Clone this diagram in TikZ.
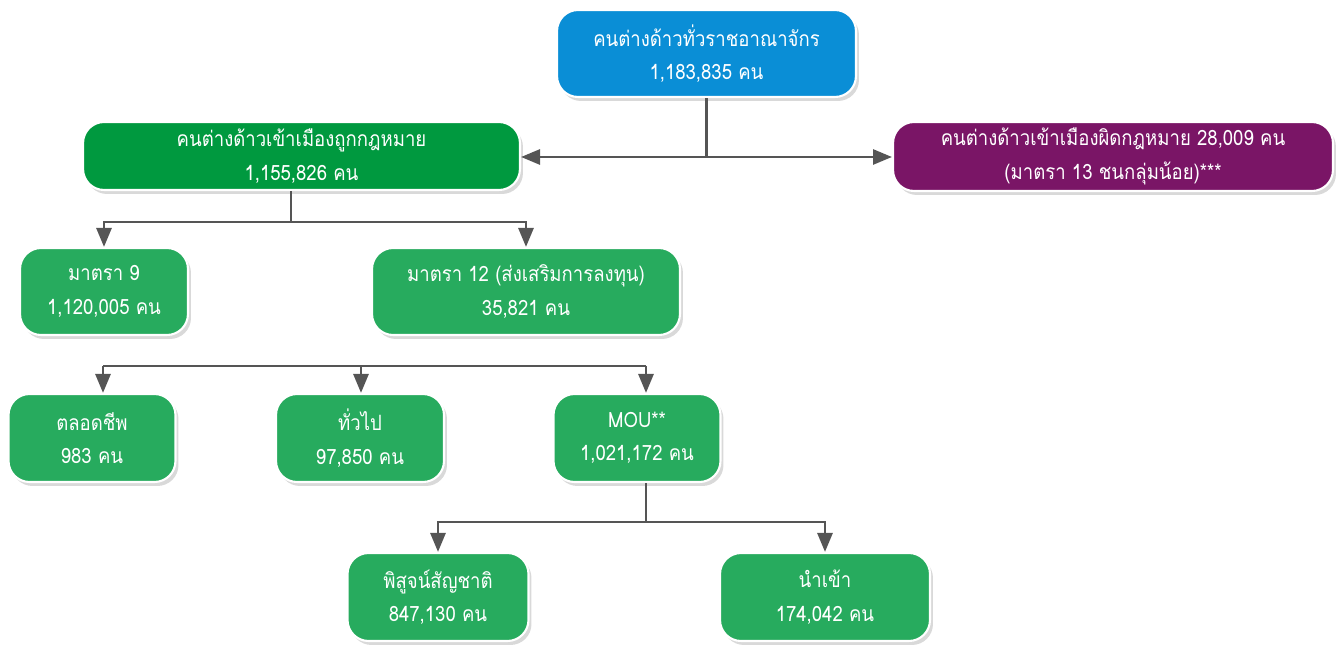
\documentclass[tikz,border=0pt]{standalone}
\usepackage{fontspec}
\newfontfamily\thaifont[Script=Thai,FakeStretch=0.88]{Loma}
\usetikzlibrary{arrows.meta,shadows}
\definecolor{boxblue}{HTML}{0A8ED6}
\definecolor{lawgreen}{HTML}{00993F}
\definecolor{subgreen}{HTML}{27AB5E}
\definecolor{boxpurple}{HTML}{7A1566}
\definecolor{linegray}{HTML}{555555}
\tikzset{
  cbox/.style={rectangle, rounded corners=0.42cm, draw=white, line width=1.2pt,
    text=white, align=center, inner sep=0pt,
    font=\thaifont\fontsize{12}{19}\selectfont,
    drop shadow={shadow xshift=0.06cm, shadow yshift=-0.08cm, opacity=0.3}},
  link/.style={draw=linegray, line width=1.6pt},
  tip/.style={-{Triangle[width=0.3cm,length=0.38cm]}}
}
\begin{document}
\begin{tikzpicture}[x=0.02cm,y=-0.02cm]
        \useasboundingbox (0,0) rectangle (1343,648);
        % boxes
        \node[cbox, fill=boxblue, minimum width=5.98cm, minimum height=1.74cm] (all) at (706.5,53.5) {คนต่างด้าวทั่วราชอาณาจักร\\1,183,835 คน};
        \node[cbox, fill=lawgreen, minimum width=8.74cm, minimum height=1.36cm] (legal) at (301.5,156) {คนต่างด้าวเข้าเมืองถูกกฎหมาย\\1,155,826 คน};
        \node[cbox, fill=boxpurple, minimum width=8.8cm, minimum height=1.38cm] (illegal) at (1113,156.5) {คนต่างด้าวเข้าเมืองผิดกฎหมาย 28,009 คน\\(มาตรา 13 ชนกลุ่มน้อย)***};
        \node[cbox, fill=subgreen, minimum width=3.36cm, minimum height=1.74cm] (m9) at (104,291.5) {มาตรา 9\\1,120,005 คน};
        \node[cbox, fill=subgreen, minimum width=6.16cm, minimum height=1.74cm] (m12) at (526,291.5) {มาตรา 12 (ส่งเสริมการลงทุน)\\35,821 คน};
        \node[cbox, fill=subgreen, minimum width=3.34cm, minimum height=1.76cm] (life) at (92,438) {ตลอดชีพ\\983 คน};
        \node[cbox, fill=subgreen, minimum width=3.36cm, minimum height=1.76cm] (gen) at (360,438) {ทั่วไป\\97,850 คน};
        \node[cbox, fill=subgreen, minimum width=3.34cm, minimum height=1.76cm] (mou) at (637,438) {MOU**\\1,021,172 คน};
        \node[cbox, fill=subgreen, minimum width=3.62cm, minimum height=1.76cm] (proof) at (438,597) {พิสูจน์สัญชาติ\\847,130 คน};
        \node[cbox, fill=subgreen, minimum width=4.2cm, minimum height=1.76cm] (imp) at (825,597) {นำเข้า\\174,042 คน};
        % connectors
        \coordinate (hub) at (706.5,157);
        \draw[link] (all) -- (hub);
        \draw[link,tip] (hub) -- (hub -| legal.east);
        \draw[link,tip] (hub) -- (hub -| illegal.west);
        \coordinate (hubl) at (291,222);
        \draw[link] (hubl |- legal.south) -- (hubl);
        \draw[link,tip] (hubl) -| (m9);
        \draw[link,tip] (hubl) -| (m12);
        \coordinate (barl) at (103,366);
        \coordinate (barm) at (361,366);
        \coordinate (barr) at (646,366);
        \draw[link] (barl) -- (barr);
        \draw[link,tip] (barl) -- (barl |- life.north);
        \draw[link,tip] (barm) -- (barm |- gen.north);
        \draw[link,tip] (barr) -- (barr |- mou.north);
        \coordinate (hubm) at (646,522);
        \draw[link] (hubm |- mou.south) -- (hubm);
        \draw[link,tip] (hubm) -| (proof);
        \draw[link,tip] (hubm) -| (imp);
\end{tikzpicture}
\end{document}
